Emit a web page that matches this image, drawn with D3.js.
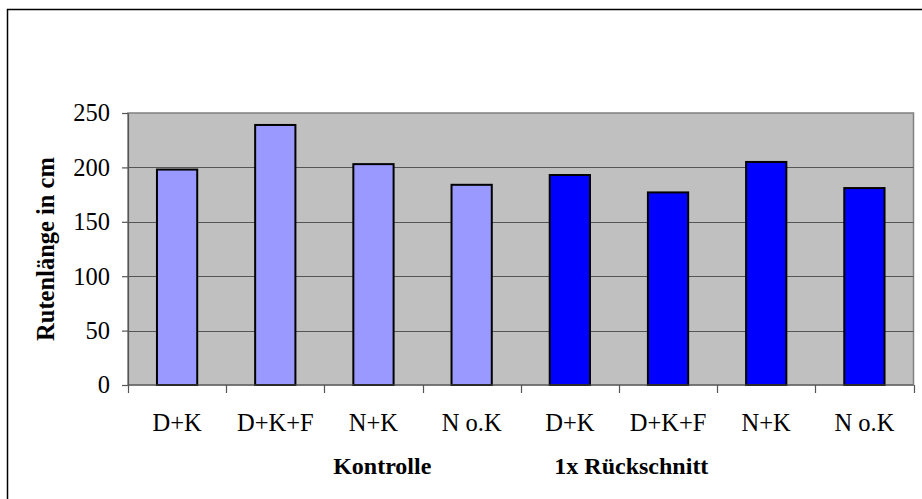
<!DOCTYPE html>
<html>
<head>
<meta charset="utf-8">
<script src="https://cdn.jsdelivr.net/npm/d3@7"></script>
<style>
  body { margin: 0; background: #fff; }
  text { font-family: "Liberation Serif", "Times New Roman", serif; }
</style>
</head>
<body>
<svg id="chart"></svg>
<script>
// data
var categories = ["D+K", "D+K+F", "N+K", "N o.K", "D+K", "D+K+F", "N+K", "N o.K"];
var groups = ["Kontrolle", "Kontrolle", "Kontrolle", "Kontrolle",
              "1x Rückschnitt", "1x Rückschnitt", "1x Rückschnitt", "1x Rückschnitt"];
var values = [198, 239, 203, 184, 193, 177, 205, 181];
var yTicks = [0, 50, 100, 150, 200, 250];
var yTitle = "Rutenlänge in cm";
var xTitleParts = ["Kontrolle", "1x Rückschnitt"];

var width = 922, height = 499;
var margin = {top: 113, right: 8, bottom: 114, left: 128};
var colors = {"Kontrolle": "#9999FF", "1x Rückschnitt": "#0000FF"};

var data = categories.map(function (c, i) {
    return {id: i, label: c, group: groups[i], value: values[i]};
});

var svg = d3.select("#chart")
    .attr("width", width)
    .attr("height", height);

// outer chart border
svg.append("rect")
    .attr("x", 7.5).attr("y", 9.5)
    .attr("width", 1000).attr("height", 1000)
    .attr("fill", "none")
    .attr("stroke", "#000")
    .attr("stroke-width", 1.5);

var x = d3.scaleBand()
    .domain(data.map(function (d) { return d.id; }))
    .range([margin.left, width - margin.right - 0.5])
    .paddingInner(0.59)
    .paddingOuter(0.295);

var xOuter = d3.scaleBand()
    .domain(data.map(function (d) { return d.id; }))
    .range([margin.left, width - margin.right - 0.5]);

var y = d3.scaleLinear()
    .domain([0, 250])
    .range([height - margin.bottom, margin.top]);

// plot background
svg.append("rect")
    .attr("x", margin.left)
    .attr("y", y(250))
    .attr("width", xOuter.range()[1] - margin.left)
    .attr("height", y(0) - y(250))
    .attr("fill", "#C0C0C0")
    .attr("stroke", "#808080")
    .attr("stroke-width", 1.5);

// gridlines
svg.append("g")
    .selectAll("line")
    .data(yTicks.filter(function (t) { return t > 0 && t < 250; }))
    .enter().append("line")
    .attr("x1", margin.left)
    .attr("x2", xOuter.range()[1])
    .attr("y1", function (d) { return Math.round(y(d)) + 0.5; })
    .attr("y2", function (d) { return Math.round(y(d)) + 0.5; })
    .attr("stroke", "#555")
    .attr("stroke-width", 1.2);

// bars
svg.selectAll(".bar")
    .data(data)
    .enter().append("rect")
    .attr("class", "bar")
    .attr("x", function (d) { return x(d.id); })
    .attr("y", function (d) { return y(d.value); })
    .attr("width", x.bandwidth())
    .attr("height", function (d) { return y(0) - y(d.value); })
    .attr("fill", function (d) { return colors[d.group]; })
    .attr("stroke", "#000")
    .attr("stroke-width", 2);

// y axis
var yAxis = svg.append("g")
    .attr("transform", "translate(" + margin.left + ",0)")
    .call(d3.axisLeft(y).tickValues(yTicks).tickSize(6).tickPadding(12).tickSizeOuter(0));
yAxis.select(".domain").attr("stroke", "#555").attr("stroke-width", 1.2);
yAxis.selectAll(".tick line").attr("stroke", "#555").attr("stroke-width", 1.2);
yAxis.selectAll("text")
    .style("font-family", "Liberation Serif, serif")
    .style("font-size", "24.5px")
    .attr("fill", "#000");

// x axis: ticks at band boundaries, labels at band centres
var xAxis = svg.append("g")
    .attr("transform", "translate(0," + y(0) + ")");
xAxis.append("line")
    .attr("x1", margin.left).attr("x2", xOuter.range()[1])
    .attr("stroke", "#555").attr("stroke-width", 1.2);
var bounds = xOuter.domain().map(function (d) { return xOuter(d); }).concat([xOuter.range()[1]]);
xAxis.selectAll(".btick")
    .data(bounds)
    .enter().append("line")
    .attr("class", "btick")
    .attr("x1", function (d) { return Math.round(d) + 0.5; })
    .attr("x2", function (d) { return Math.round(d) + 0.5; })
    .attr("y1", 0).attr("y2", 8)
    .attr("stroke", "#555").attr("stroke-width", 1.2);
xAxis.selectAll(".clabel")
    .data(data)
    .enter().append("text")
    .attr("class", "clabel")
    .attr("x", function (d) { return xOuter(d.id) + xOuter.bandwidth() / 2; })
    .attr("y", 46)
    .attr("text-anchor", "middle")
    .style("font-size", "24.5px")
    .text(function (d) { return d.label; });

// x axis title (one string centred under the plot)
var xt = svg.append("text")
    .attr("x", (margin.left + xOuter.range()[1]) / 2)
    .attr("y", 474)
    .attr("text-anchor", "middle")
    .style("font-size", "24px")
    .style("font-weight", "bold");
xt.append("tspan").text(xTitleParts[0]);
xt.append("tspan").attr("dx", 123).text(xTitleParts[1]);

// y axis title
svg.append("text")
    .attr("transform", "translate(54," + (y(125)) + ") rotate(-90)")
    .attr("text-anchor", "middle")
    .style("font-size", "24.5px")
    .style("font-weight", "bold")
    .text(yTitle);
</script>
</body>
</html>
